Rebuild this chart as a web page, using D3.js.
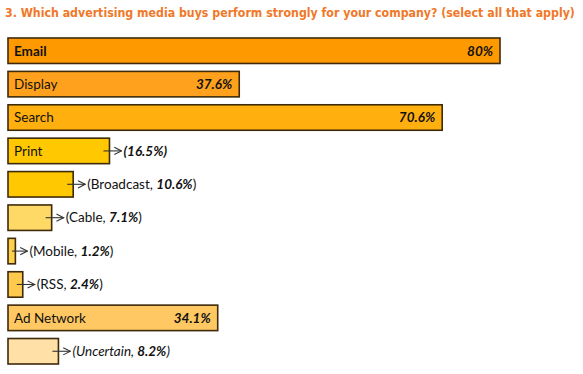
<!DOCTYPE html>
<html><head><meta charset="utf-8">
<script src="https://cdn.jsdelivr.net/npm/d3@7"></script>
<style>
html,body{margin:0;padding:0;background:#fff;}
svg{display:block;}
</style></head>
<body>
<svg id="chart" width="583" height="374"></svg>
<script>
const title = "3. Which advertising media buys perform strongly for your company? (select all that apply)";
const categories = ["Email","Display","Search","Print","Broadcast","Cable","Mobile","RSS","Ad Network","Uncertain"];
const values = [80, 37.6, 70.6, 16.5, 10.6, 7.1, 1.2, 2.4, 34.1, 8.2];
const valueLabels = ["80%","37.6%","70.6%","16.5%","10.6%","7.1%","1.2%","2.4%","34.1%","8.2%"];
const barColors = ["#FF9900","#FFA11C","#FFB00F","#FFC800","#FFC800","#FFD966","#FFD04A","#FFC94D","#FFC862","#FFE0A6"];

const svg = d3.select("#chart");
const labelFont = "Lato, 'Open Sans', sans-serif";
const fs = 13.5;

const tt = svg.append("text").attr("x",5).attr("y",17)
  .attr("font-family","'DejaVu Sans Condensed','DejaVu Sans',sans-serif")
  .attr("font-weight","bold").attr("font-size",12.6)
  .attr("fill","#F07828").text(title);
const natural = tt.node().getComputedTextLength();
if (natural > 570) tt.attr("font-size", 12.6 * 570 / natural);

const x = d3.scaleLinear().domain([0,80]).range([8,500]);
const y = d3.scaleBand().domain(categories).range([38,364]).paddingInner(0.237).paddingOuter(0).align(0);

svg.append("defs").append("marker").attr("id","arr")
  .attr("viewBox","0 0 10 10").attr("refX",9).attr("refY",5)
  .attr("markerWidth",9).attr("markerHeight",9).attr("markerUnits","userSpaceOnUse")
  .attr("orient","auto")
  .append("path").attr("d","M1,1 L9,5 L1,9").attr("fill","none")
  .attr("stroke","#333").attr("stroke-width",1.2);

const g = svg.selectAll("g.bar").data(categories).join("g").attr("class","bar");

g.append("rect")
  .attr("x",x(0)).attr("y",d=>y(d))
  .attr("width",(d,i)=>x(values[i])-x(0)).attr("height",y.bandwidth())
  .attr("fill",(d,i)=>barColors[i]).attr("stroke","#3F2A0A").attr("stroke-width",1.6);

const meas = svg.append("text").attr("font-family",labelFont).attr("font-size",fs).attr("visibility","hidden");
function tw(t, w){ meas.attr("font-weight",w||"normal").text(t); return meas.node().getComputedTextLength(); }

g.each(function(d,i){
  const sel = d3.select(this);
  const w = x(values[i]) - x(0);
  const mid = y(d) + y.bandwidth()/2;
  const cy = mid + 4.8;
  const end = x(values[i]);
  const nameW = tw(d, i===0?"bold":"normal");
  const valW = tw(valueLabels[i], "bold");
  if (w > nameW + valW + 50) {
    sel.append("text").attr("x",x(0)+6).attr("y",cy)
      .attr("font-family",labelFont).attr("font-size",fs)
      .attr("font-weight", i===0?"bold":"normal").attr("fill","#111").text(d);
    sel.append("text").attr("x",end-7).attr("y",cy).attr("text-anchor","end")
      .attr("font-family",labelFont).attr("font-size",fs)
      .attr("font-weight","bold").attr("font-style","italic").attr("fill","#111").text(valueLabels[i]);
  } else {
    const inside = w > nameW + 20;
    const ax0 = Math.max(end - 6, x(0) + 4), ax1 = end + 12;
    sel.append("line").attr("x1",ax0).attr("x2",ax1).attr("y1",mid).attr("y2",mid)
      .attr("stroke","#333").attr("stroke-width",1.1).attr("marker-end","url(#arr)");
    if (inside) {
      sel.append("text").attr("x",x(0)+6).attr("y",cy)
        .attr("font-family",labelFont).attr("font-size",fs).attr("fill","#111").text(d);
    }
    const italicName = d === "Uncertain";
    const t = sel.append("text").attr("x",ax1+2).attr("y",cy)
      .attr("font-family",labelFont).attr("font-size",fs).attr("fill","#111");
    if (inside) {
      t.append("tspan").attr("font-weight","bold").attr("font-style","italic").text("(" + valueLabels[i] + ")");
    } else {
      t.append("tspan").attr("font-style", italicName?"italic":"normal").text("(" + d + ", ");
      t.append("tspan").attr("font-weight","bold").attr("font-style","italic").text(valueLabels[i]);
      t.append("tspan").attr("font-style", italicName?"italic":"normal").text(")");
    }
  }
});
meas.remove();
</script>
</body></html>
